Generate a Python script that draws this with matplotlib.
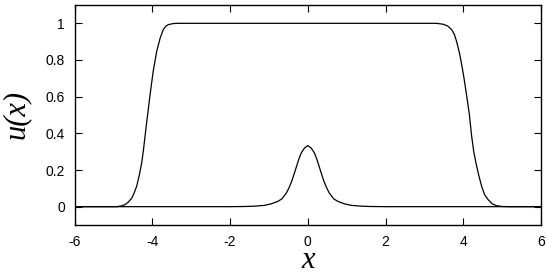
import matplotlib
matplotlib.use("Agg")
import matplotlib.pyplot as plt

# plateau profile
plateau_x = [-6.0, -5.2, -4.92, -4.8, -4.706, -4.62, -4.53, -4.47, -4.405, -4.34,
             -4.276, -4.23, -4.19, -4.15, -4.12, -4.06, -3.98, -3.89, -3.80, -3.72,
             -3.65, -3.59, -3.48, -3.375, 3.3, 3.486, 3.60, 3.70, 3.77, 3.83,
             3.90, 3.96, 4.02, 4.07, 4.155, 4.216, 4.27, 4.327, 4.40, 4.473,
             4.55, 4.64, 4.75, 4.86, 5.0, 5.2, 6.0]
plateau_u = [0.0, 0.0, 0.0, 0.004, 0.011, 0.025, 0.047, 0.075, 0.111, 0.17,
             0.238, 0.31, 0.384, 0.455, 0.506, 0.611, 0.738, 0.847, 0.92, 0.966,
             0.985, 0.993, 0.998, 1.0, 1.0, 0.995, 0.985, 0.966, 0.94, 0.90,
             0.84, 0.775, 0.70, 0.63, 0.506, 0.384, 0.30, 0.238, 0.17, 0.111,
             0.065, 0.038, 0.015, 0.005, 0.001, 0.0, 0.0]

# small bump at the origin
bump_x = [-6.0, -2.0, -1.6, -1.36, -1.12, -0.95, -0.78, -0.67, -0.55, -0.48,
          -0.415, -0.35, -0.29, -0.23, -0.17, -0.085, 0.0, 0.085, 0.17, 0.23,
          0.29, 0.35, 0.415, 0.48, 0.55, 0.67, 0.78, 0.95, 1.12, 1.36,
          1.6, 2.0, 6.0]
bump_u = [0.0, 0.0, 0.001, 0.003, 0.007, 0.015, 0.028, 0.042, 0.075, 0.105,
          0.138, 0.18, 0.22, 0.26, 0.293, 0.32, 0.333, 0.32, 0.293, 0.26,
          0.22, 0.18, 0.138, 0.105, 0.075, 0.042, 0.028, 0.015, 0.007, 0.003,
          0.001, 0.0, 0.0]

xticks = [-6, -4, -2, 0, 2, 4, 6]
yticks = [0, 0.2, 0.4, 0.6, 0.8, 1]

plt.rcParams['font.family'] = ['Liberation Sans', 'DejaVu Sans']
plt.rcParams['font.size'] = 10

fig = plt.figure(figsize=(5.46, 2.74), dpi=100)
ax = fig.add_axes([0.1368, 0.1788, 0.9908 - 0.1368, 0.9818 - 0.1788])

ax.plot(plateau_x, plateau_u, color='black', lw=0.9)
ax.plot(bump_x, bump_u, color='black', lw=0.9)

ax.set_xlim(-6, 6)
ax.set_ylim(-0.1, 1.1)
ax.set_xticks(xticks)
ax.set_xticklabels([str(t) for t in xticks])
ax.set_yticks(yticks)
ax.set_yticklabels(['0', '0.2', '0.4', '0.6', '0.8', '1'])
ax.tick_params(direction='in', top=True, right=True, length=5, width=0.8, pad=7)
for s in ax.spines.values():
    s.set_linewidth(1.0)

ax.set_xlabel('x', family='Liberation Serif', style='italic', size=22, labelpad=-2)
ax.set_ylabel('u(x)', family='Liberation Serif', style='italic', size=22, labelpad=11)

fig.savefig('out.png', dpi=100)
